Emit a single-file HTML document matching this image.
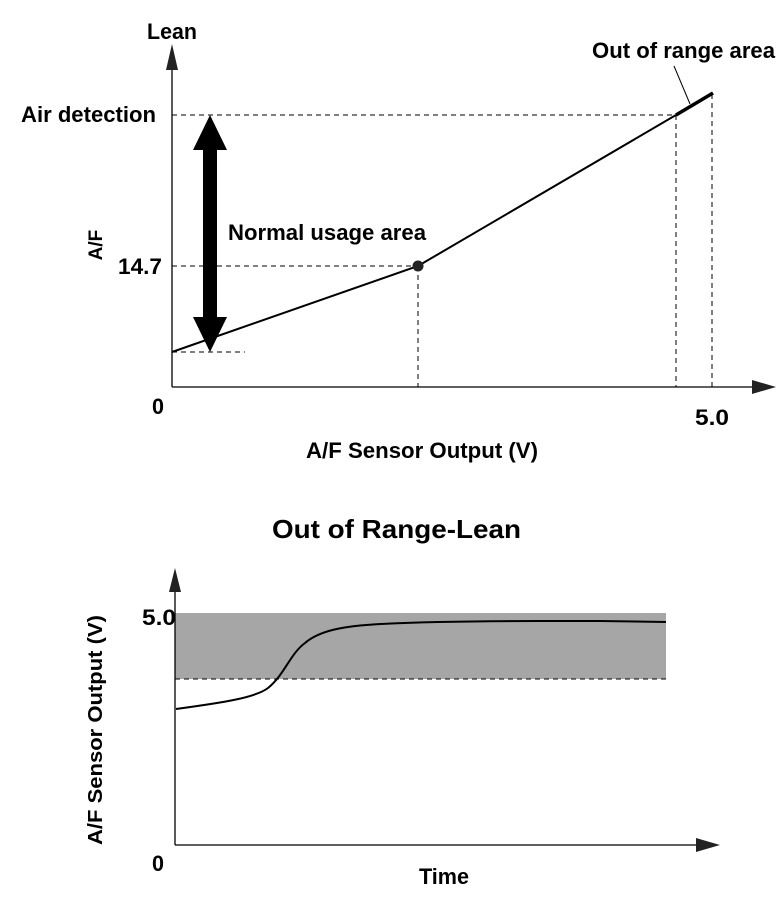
<!DOCTYPE html>
<html><head><meta charset="utf-8"><style>html,body{margin:0;padding:0;background:#fff}svg{display:block}</style></head>
<body>
<svg width="784" height="904" viewBox="0 0 784 904" xmlns="http://www.w3.org/2000/svg" font-family="'Liberation Sans', Arial, sans-serif" font-weight="bold" fill="#000">
<!-- top chart -->
<line x1="172" y1="387" x2="172" y2="60" stroke="#000" stroke-width="1.3"/>
<polygon points="172,44 166,70 178,70" fill="#222"/>
<line x1="172" y1="387" x2="760" y2="387" stroke="#000" stroke-width="1.3"/>
<polygon points="776,387 752,380 752,394" fill="#222"/>
<g stroke="#000" stroke-width="1" stroke-dasharray="5,4" fill="none">
<line x1="172" y1="115" x2="676" y2="115"/>
<line x1="172" y1="266" x2="418" y2="266"/>
<line x1="172" y1="352" x2="245" y2="352"/>
<line x1="418" y1="266" x2="418" y2="387"/>
<line x1="676" y1="115" x2="676" y2="387"/>
<line x1="712" y1="94" x2="712" y2="387"/>
</g>
<polyline points="172,352 418,266 676,115" fill="none" stroke="#000" stroke-width="2"/>
<line x1="676" y1="115" x2="713" y2="93" stroke="#000" stroke-width="3.5"/>
<line x1="674" y1="66" x2="690" y2="104" stroke="#000" stroke-width="1"/>
<circle cx="418" cy="266" r="5.5" fill="#222"/>
<polygon points="210,115 193,150 203,150 203,317 193,317 210,352 227,317 217,317 217,150 227,150" fill="#000"/>
<text x="147" y="39" font-size="22" textLength="50" lengthAdjust="spacingAndGlyphs">Lean</text>
<text x="592" y="58" font-size="22" textLength="183" lengthAdjust="spacingAndGlyphs">Out of range area</text>
<text x="21" y="122" font-size="22" textLength="135" lengthAdjust="spacingAndGlyphs">Air detection</text>
<text x="228" y="240" font-size="22" textLength="198" lengthAdjust="spacingAndGlyphs">Normal usage area</text>
<text x="118" y="274" font-size="22" textLength="44" lengthAdjust="spacingAndGlyphs">14.7</text>
<text x="102" y="245" font-size="19" transform="rotate(-90 102 245)" text-anchor="middle">A/F</text>
<text x="152" y="414" font-size="22" textLength="12" lengthAdjust="spacingAndGlyphs">0</text>
<text x="695" y="425" font-size="22" textLength="34" lengthAdjust="spacingAndGlyphs">5.0</text>
<text x="306" y="458" font-size="22" textLength="232" lengthAdjust="spacingAndGlyphs">A/F Sensor Output (V)</text>
<!-- bottom chart -->
<text x="272" y="538" font-size="26" textLength="249" lengthAdjust="spacingAndGlyphs">Out of Range-Lean</text>
<rect x="175" y="613" width="491" height="66" fill="#a6a6a6"/>
<line x1="175" y1="679" x2="666" y2="679" stroke="#000" stroke-width="1" stroke-dasharray="5,4"/>
<line x1="175" y1="845" x2="175" y2="585" stroke="#000" stroke-width="1.3"/>
<polygon points="175,568 169,592 181,592" fill="#222"/>
<line x1="175" y1="845" x2="705" y2="845" stroke="#000" stroke-width="1.3"/>
<polygon points="720,845 696,838 696,852" fill="#222"/>
<path d="M176,709 C220,703 255,698 268,688 C285,674 290,654 305,643 C320,630 345,626 380,624 C420,622 480,621 540,621 L600,621 L666,622" fill="none" stroke="#000" stroke-width="2"/>
<text x="142" y="625" font-size="22" textLength="34" lengthAdjust="spacingAndGlyphs">5.0</text>
<text x="152" y="871" font-size="22" textLength="12" lengthAdjust="spacingAndGlyphs">0</text>
<text x="419" y="884" font-size="22" textLength="50" lengthAdjust="spacingAndGlyphs">Time</text>
<text x="0" y="0" font-size="20" transform="translate(102,730) rotate(-90)" text-anchor="middle" textLength="230" lengthAdjust="spacingAndGlyphs">A/F Sensor Output (V)</text>
</svg>
</body></html>
